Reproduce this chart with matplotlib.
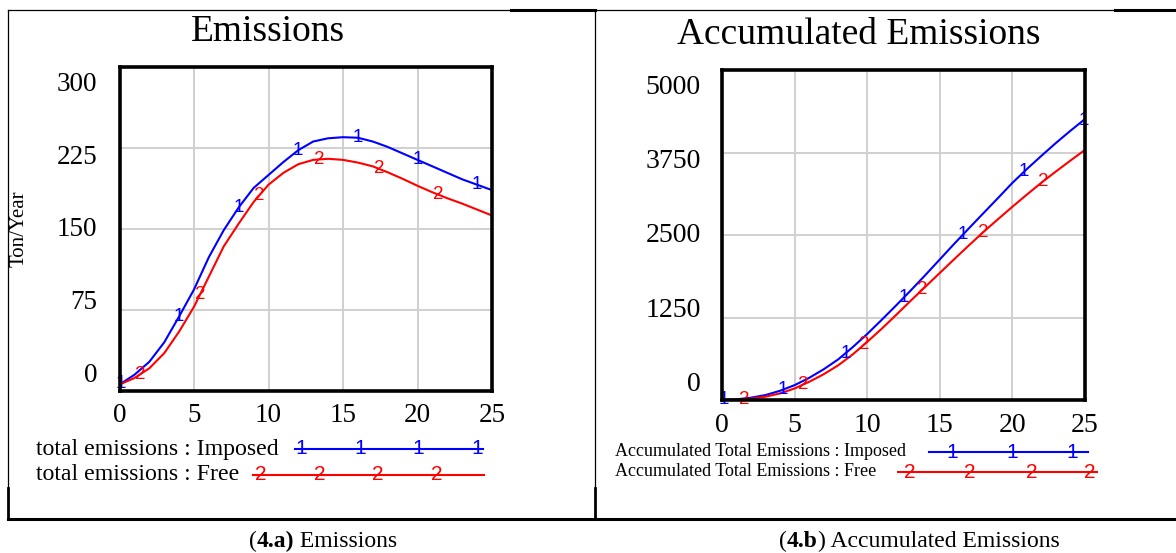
import numpy as np
import matplotlib.pyplot as plt
from matplotlib.offsetbox import TextArea, HPacker, AnnotationBbox

plt.rcParams['font.family'] = ['Liberation Serif', 'DejaVu Serif']

# simulation time (years)
years = np.arange(0, 26)

# total emissions, Ton/Year
emis_imposed = [6, 15, 27, 45, 69, 94, 124, 149, 170, 188, 200, 212, 223, 231, 234, 235,
                234.5, 231, 226, 220, 214, 208, 202, 196, 191, 186]
emis_free = [6, 12, 21, 35, 55, 78, 106, 134, 155, 175, 191, 202, 210, 214, 215, 214,
             211.5, 208, 202.5, 196.5, 190, 184, 178.5, 173.5, 168, 162.5]

# accumulated total emissions
acc_imposed = [0, 10, 35, 75, 140, 225, 335, 465, 615, 800, 1000, 1215, 1435, 1660, 1892, 2130,
               2368, 2600, 2830, 3058, 3290, 3500, 3700, 3895, 4080, 4257]
acc_free = [0, 5, 20, 50, 100, 175, 275, 390, 525, 690, 880, 1080, 1290, 1505, 1715, 1925,
            2135, 2342, 2545, 2738, 2928, 3113, 3293, 3463, 3628, 3790]

# where vensim puts the "1" / "2" run numbers on the curves
emis_marks1 = [0.1, 4, 8, 12, 16, 20, 24]
emis_marks2 = [1.4, 5.4, 9.4, 13.4, 17.4, 21.4]
acc_marks1 = [0.1, 4.2, 8.5, 12.5, 16.6, 20.8, 24.9]
acc_marks2 = [1.5, 5.6, 9.8, 13.8, 18.0, 22.1]

emis_ticks = [0, 75, 150, 225, 300]
acc_ticks = [0, 1250, 2500, 3750, 5000]

BLUE = '#0000ff'
RED = '#ff0000'
W, H = 1176, 553

fig = plt.figure(figsize=(W / 100, H / 100), dpi=100)
fig.patch.set_facecolor('white')

# overlay in pixel coords for the table frame, legends and captions
ov = fig.add_axes([0, 0, 1, 1])
ov.set_xlim(0, W)
ov.set_ylim(H, 0)
ov.axis('off')


def draw_panel(ax, s1, s2, ticks, m1, m2, lab_size):
    ax.set_xlim(0, 25)
    ax.set_ylim(ticks[0], ticks[-1])
    ax.set_xticks(np.arange(0, 26, 5))
    ax.set_yticks(ticks)
    ax.grid(True, color='#d0d0d0', lw=1.4)
    ax.set_axisbelow(True)
    ax.tick_params(length=0, labelleft=False, labelsize=lab_size, pad=9)
    for sp in ax.spines.values():
        sp.set_linewidth(2.6)
        sp.set_zorder(5)
    ax.plot(years, s1, color=BLUE, lw=1.5, zorder=3)
    ax.plot(years, s2, color=RED, lw=1.5, zorder=3)
    for xm in m1:
        ax.text(xm, np.interp(xm, years, s1), '1', color=BLUE, ha='center', va='center',
                fontsize=13.5, family='Liberation Sans', zorder=4)
    for xm in m2:
        ax.text(xm, np.interp(xm, years, s2), '2', color=RED, ha='center', va='center',
                fontsize=13.5, family='Liberation Sans', zorder=4)
    # vensim spreads the value labels a bit tighter than the grid
    for v in ticks:
        f = (v - ticks[0]) / (ticks[-1] - ticks[0])
        ax.text(-0.059, 0.047 + 0.9 * f, str(v), transform=ax.transAxes,
                ha='right', va='center', fontsize=lab_size)


ax1 = fig.add_axes([119.5 / W, 1 - 391 / H, 372.5 / W, 324 / H])
draw_panel(ax1, emis_imposed, emis_free, emis_ticks, emis_marks1, emis_marks2, 19.5)
ax2 = fig.add_axes([722 / W, 1 - 400 / H, 363 / W, 330 / H])
draw_panel(ax2, acc_imposed, acc_free, acc_ticks, acc_marks1, acc_marks2, 20)

ov.text(268, 41, 'Emissions', ha='center', va='baseline', fontsize=27)
ov.text(859, 44, 'Accumulated Emissions', ha='center', va='baseline', fontsize=27)
ov.text(19, 229, 'Ton/Year', rotation=90, ha='center', va='center', fontsize=15)

# legends
def legend_row(x_txt, y, label, size, x0, x1, marks, glyph, color):
    ov.text(x_txt, y, label, ha='left', va='center', fontsize=size)
    ov.plot([x0, x1], [y, y], color=color, lw=1.5)
    for xm in marks:
        ov.text(xm, y, glyph, color=color, ha='center', va='center', fontsize=15,
                family='Liberation Sans')


legend_row(36, 449, 'total emissions : Imposed', 17.2, 295, 483, [301, 360, 418, 477], '1', BLUE)
legend_row(36, 475, 'total emissions : Free', 17.2, 253, 484, [261, 320, 378, 437], '2', RED)
legend_row(615, 452, 'Accumulated Total Emissions : Imposed', 13, 929, 1088,
           [952, 1012, 1072], '1', BLUE)
legend_row(615, 472, 'Accumulated Total Emissions : Free', 13, 898, 1097,
           [910, 970, 1032, 1090], '2', RED)

# table frame around the two figures
ov.plot([8, 1176], [10, 10], color='black', lw=0.9)
ov.plot([511, 595], [10, 10], color='black', lw=2.2)
ov.plot([1115, 1176], [10, 10], color='black', lw=2.2)
ov.plot([8, 1176], [519, 519], color='black', lw=2.2)
for xv in [8, 595]:
    ov.plot([xv, xv], [10, 488], color='black', lw=0.9)
    ov.plot([xv, xv], [488, 519], color='black', lw=2.0)


# captions with the bold figure number
def caption(x, y, parts):
    boxes = [TextArea(t, textprops=dict(fontsize=17, fontweight=wt)) for t, wt in parts]
    pack = HPacker(children=boxes, align='baseline', pad=0, sep=0)
    ov.add_artist(AnnotationBbox(pack, (x, y), xycoords='data', frameon=False,
                                 box_alignment=(0.5, 0.5)))


caption(323, 541, [('(', 'normal'), ('4.a)', 'bold'), (' Emissions', 'normal')])
caption(919, 541, [('(', 'normal'), ('4.b', 'bold'), (') Accumulated Emissions', 'normal')])

fig.savefig('out.png', dpi=100)
